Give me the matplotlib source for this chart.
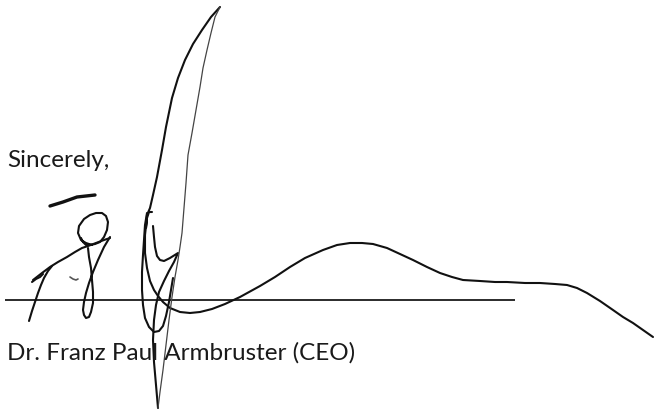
import matplotlib.pyplot as plt

# Signature strokes, traced in pixel coordinates of the scanned page (x, y from top-left)
bar_x = [50, 63, 77, 95]
bar_y = [206, 202, 197, 195]

diag_x = [33, 42, 50, 58, 67, 75, 82, 88, 96, 104, 110]
diag_y = [280, 273, 267, 262, 257, 252, 248, 246, 243, 240, 238]

upstroke_x = [29, 32, 35, 38, 41, 44, 48, 52]
upstroke_y = [321, 311, 302, 293, 285, 278, 271, 266]

tick_x = [32, 36, 40, 43]
tick_y = [282, 279, 277, 274]

dash_x = [70, 73, 76, 78]
dash_y = [277, 279, 280, 279]

oval_x = [92, 86, 81, 78, 79, 84, 90, 96, 102, 106, 108, 107, 104, 100, 95, 90, 86, 83, 81]
oval_y = [245, 243, 240, 233, 226, 219, 215, 213, 213, 216, 222, 230, 237, 242, 244, 245, 245, 242, 238]

gstem_x = [110, 104, 98, 93, 89, 86, 84, 83, 84, 86, 89, 91, 93, 93, 92, 91, 89, 88]
gstem_y = [237, 247, 260, 272, 283, 293, 302, 310, 315, 318, 317, 312, 303, 292, 280, 268, 257, 248]

dark_leaf_x = [152, 149, 147, 146, 147, 150, 153, 157, 162, 166, 172, 178, 185, 193, 202, 211, 220]
dark_leaf_y = [212, 212, 218, 228, 215, 208, 195, 177, 150, 127, 98, 78, 60, 44, 30, 17, 7]

light_leaf_x = [220, 215, 211, 207, 203, 200, 196, 192, 188, 186, 184, 182, 180, 178, 175, 172, 169, 166, 163, 160, 158]
light_leaf_y = [7, 17, 33, 50, 68, 87, 110, 133, 155, 183, 208, 233, 247, 260, 277, 297, 320, 345, 370, 392, 408]

yhook_x = [153, 154, 155, 157, 160, 164, 170, 178, 174, 169, 164, 159, 156, 154, 153, 154, 156, 158]
yhook_y = [226, 237, 247, 256, 260, 261, 258, 253, 262, 271, 281, 292, 305, 320, 340, 362, 385, 408]

uloop_x = [147, 145, 144, 143, 142, 142, 143, 145, 149, 154, 159, 163, 166, 169, 171, 173]
uloop_y = [213, 225, 240, 255, 272, 290, 305, 318, 327, 332, 331, 326, 316, 302, 290, 278]

swoop_x = [147, 145, 145, 147, 150, 154, 158, 163, 170, 180, 190, 200, 212, 225, 240,
           260, 275, 290, 305, 323, 337, 350, 362, 373, 387, 400, 413, 427, 440, 452,
           463, 480, 495, 507, 525, 540, 555, 567, 577, 587, 600, 613, 623, 633, 643, 653]
swoop_y = [217, 235, 253, 268, 281, 290, 296, 302, 308, 312, 313, 312, 309, 304, 297,
           286, 277, 267, 258, 250, 245, 243, 243, 244, 248, 254, 260, 267, 273, 277,
           280, 281, 282, 282, 283, 283, 284, 285, 288, 293, 301, 310, 317, 323, 330, 337]

rule_x = [5, 515]
rule_y = [300, 300]

closing_text = "Sincerely,"
name_text = "Dr. Franz Paul Armbruster (CEO)"

fig = plt.figure(figsize=(6.54, 4.13), dpi=100)
ax = fig.add_axes([0, 0, 1, 1])
ax.set_xlim(0, 654)
ax.set_ylim(413, 0)
ax.axis('off')

ink = '#111111'
ax.plot(rule_x, rule_y, color='#1a1a1a', lw=1.3, solid_capstyle='butt')

ax.plot(bar_x, bar_y, color=ink, lw=2.4, solid_capstyle='round')
for xs, ys in [(diag_x, diag_y), (upstroke_x, upstroke_y), (tick_x, tick_y),
               (oval_x, oval_y), (gstem_x, gstem_y), (dark_leaf_x, dark_leaf_y),
               (uloop_x, uloop_y), (swoop_x, swoop_y), (yhook_x, yhook_y)]:
    ax.plot(xs, ys, color=ink, lw=1.5, solid_capstyle='round', solid_joinstyle='round')
ax.plot(dash_x, dash_y, color='#555555', lw=1.2, solid_capstyle='round')
ax.plot(light_leaf_x, light_leaf_y, color='#444444', lw=0.9, solid_capstyle='round',
        solid_joinstyle='round')

ax.text(7, 167, closing_text, fontsize=17.5, family='Lato', color='#1a1a1a', va='baseline')
ax.text(7, 360, name_text, fontsize=17.5, family='Lato', color='#1a1a1a', va='baseline')

fig.savefig('out.png', dpi=100)
